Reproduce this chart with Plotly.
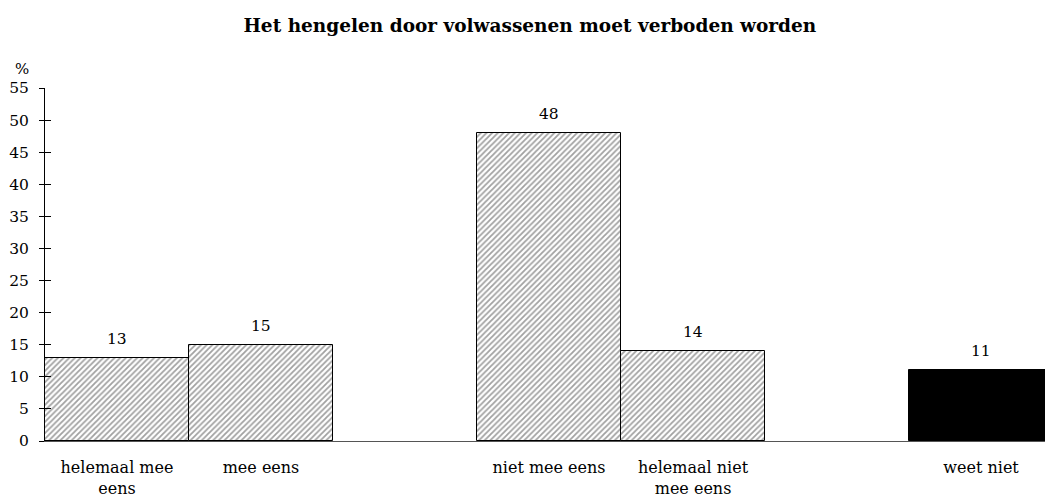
import plotly.graph_objects as go

# survey answers (percent)
categories = ["helemaal mee<br>eens", "mee eens", " ", "niet mee eens", "helemaal niet<br>mee eens", "  ", "weet niet"]
labels = ["helemaal mee<br>eens", "mee eens", "niet mee eens", "helemaal niet<br>mee eens", "weet niet"]
values = [13, 15, 48, 14, 11]
patterns = ["/", "/", "/", "/", ""]
fills = ["white", "white", "white", "white", "black"]

font_family = "DejaVu Serif, Liberation Serif, serif"

fig = go.Figure()

fig.add_trace(go.Bar(
    x=labels,
    y=values,
    width=1,
    marker=dict(
        color=fills,
        line=dict(color="black", width=1),
        pattern=dict(shape=patterns, fgcolor="black", bgcolor="white",
                     size=4, solidity=0.45),
    ),
    hoverinfo="x+y",
    showlegend=False,
))

# value labels above the bars
for lab, val in zip(labels, values):
    fig.add_annotation(x=lab, y=val, text=str(val), showarrow=False,
                       yanchor="bottom", yshift=8,
                       font=dict(family=font_family, size=15.5, color="black"))

fig.add_annotation(text="%", xref="paper", yref="paper", x=-0.014, y=1.0,
                   xanchor="right", yanchor="bottom", yshift=8, showarrow=False,
                   font=dict(family=font_family, size=15, color="black"))

# invisible helper trace so the overlay axis (inner tick halves) is drawn
fig.add_trace(go.Scatter(x=[labels[0]], y=[0], yaxis="y2", mode="markers",
                         marker=dict(opacity=0), hoverinfo="skip", showlegend=False))

fig.update_layout(
    title=dict(text="<b>Het hengelen door volwassenen moet verboden worden</b>",
               x=0.507, xref="container", y=0.948, yanchor="middle",
               font=dict(family=font_family, size=18.5, color="black")),
    width=1045,
    height=500,
    margin=dict(l=45, r=0, t=88, b=59, autoexpand=False),
    plot_bgcolor="white",
    paper_bgcolor="white",
    bargap=0,
    font=dict(family=font_family, size=15.5, color="black"),
    xaxis=dict(
        type="category",
        categoryorder="array",
        categoryarray=categories,
        range=[-0.5, 6.444],
        showline=True,
        linecolor="#555555",
        linewidth=1,
        ticks="",
        ticklabelstandoff=12,
        showgrid=False,
        automargin=False,
        layer="below traces",
        tickfont=dict(family=font_family, size=16, color="black"),
    ),
    yaxis=dict(
        range=[0, 55],
        tickmode="linear",
        tick0=0,
        dtick=5,
        showline=True,
        linecolor="black",
        linewidth=1,
        ticks="outside",
        ticklen=5,
        tickcolor="black",
        ticklabelstandoff=7,
        showgrid=False,
        zeroline=False,
        automargin=False,
        tickfont=dict(family=font_family, size=15.5, color="black"),
    ),
    yaxis2=dict(
        overlaying="y",
        side="left",
        anchor="x",
        range=[0, 55],
        tickmode="linear",
        tick0=0,
        dtick=5,
        ticks="inside",
        ticklen=6,
        tickcolor="black",
        showticklabels=False,
        showgrid=False,
        zeroline=False,
        showline=False,
        automargin=False,
    ),
)

# drop the default body margin so the figure fills the window exactly
fig.write_html("out.html", config={"displayModeBar": False},
               post_script="document.body.style.margin='0px';")
